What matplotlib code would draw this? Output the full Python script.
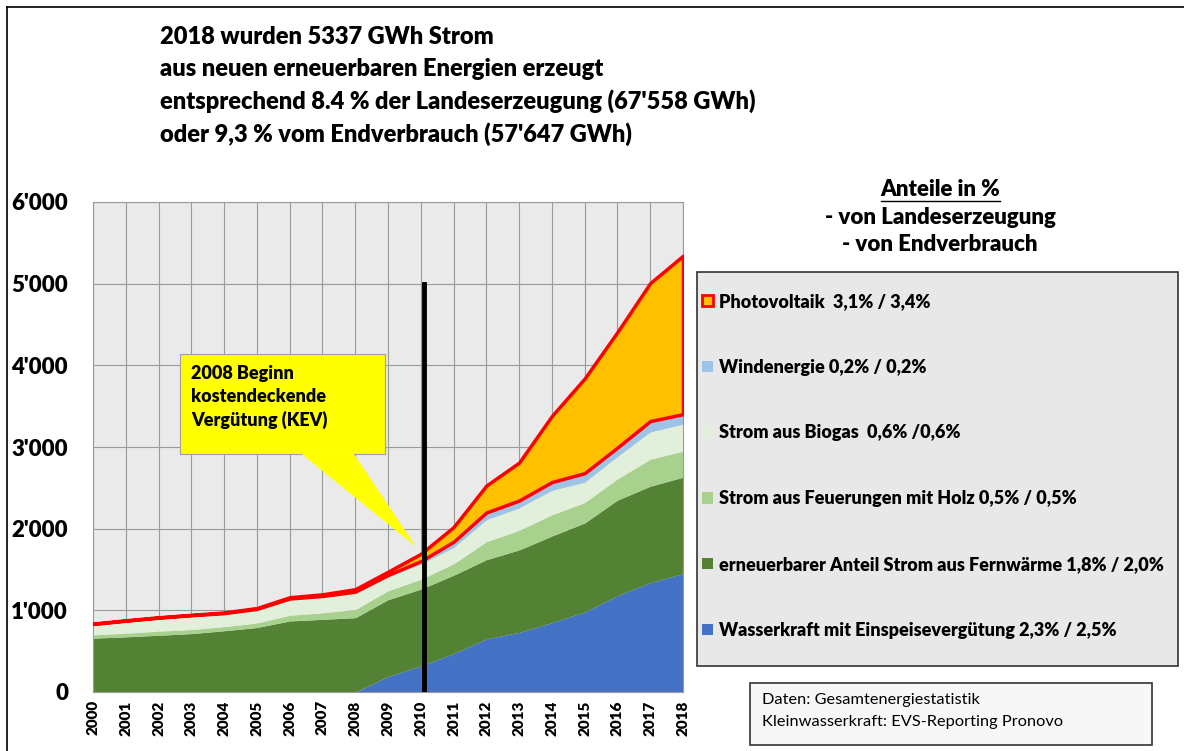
import numpy as np
import matplotlib
import matplotlib.pyplot as plt
from matplotlib.patches import Patch, Rectangle, Polygon
from matplotlib.ticker import FuncFormatter, MultipleLocator
from matplotlib.lines import Line2D

plt.rcParams['font.family'] = ['Lato', 'DejaVu Sans']

years = list(range(2000, 2019))
# GWh per year (stacked bottom -> top)
wasser = [0, 0, 0, 0, 0, 0, 0, 0, 0, 190, 320, 470, 650, 730, 850, 980, 1180, 1340, 1450]
fernwaerme = [660, 675, 695, 715, 750, 790, 870, 890, 910, 940, 940, 960, 970, 1010, 1060, 1090, 1170, 1180, 1180]
holz = [40, 45, 50, 50, 50, 55, 70, 80, 100, 110, 120, 140, 220, 240, 260, 250, 260, 330, 320]
biogas = [130, 150, 160, 170, 160, 165, 190, 190, 200, 170, 185, 200, 270, 275, 300, 250, 275, 335, 330]
wind = [3, 3, 5, 5, 6, 8, 15, 16, 19, 23, 37, 70, 88, 90, 101, 110, 109, 133, 122]
pv = [5, 5, 5, 5, 8, 10, 15, 20, 30, 40, 90, 180, 330, 465, 810, 1160, 1415, 1690, 1940]

labels = ["Wasserkraft mit Einspeisevergütung 2,3% / 2,5%",
          "erneuerbarer Anteil Strom aus Fernwärme 1,8% / 2,0%",
          "Strom aus Feuerungen mit Holz 0,5% / 0,5%",
          "Strom aus Biogas  0,6% /0,6%",
          "Windenergie 0,2% / 0,2%",
          "Photovoltaik  3,1% / 3,4%"]
colors = ['#4472C4', '#548235', '#A9D18E', '#E2EFDA', '#9DC3E6', '#FFC000']

kev_year = 2010.1
kev_top = 5000

title_lines = ["2018 wurden 5337 GWh Strom",
               "aus neuen erneuerbaren Energien erzeugt",
               "entsprechend 8.4 % der Landeserzeugung (67'558 GWh)",
               "oder 9,3 % vom Endverbrauch (57'647 GWh)"]

W, H = 1184, 751
fig = plt.figure(figsize=(W/100, H/100), dpi=100)
ax = fig.add_axes([93/W, 1-692/H, 590/W, 490/H])
ax.set_facecolor('#eaeaea')

bottom = np.zeros(len(years))
series = [wasser, fernwaerme, holz, biogas, wind]
for vals, c in zip(series, colors[:5]):
    vals = np.array(vals)
    ax.fill_between(years, bottom, bottom+vals, color=c, lw=0, zorder=2)
    bottom = bottom + vals
ax.fill_between(years, bottom, bottom+np.array(pv), facecolor=colors[5], edgecolor='#FF0000', lw=2.5, zorder=3)

ax.plot([kev_year, kev_year], [0, kev_top], color='black', lw=3.5, zorder=6)

ax.set_xlim(2000, 2018)
ax.set_ylim(0, 6000)
ax.xaxis.set_major_locator(MultipleLocator(1))
ax.yaxis.set_major_locator(MultipleLocator(1000))
ax.grid(True, color='#9a9a9a', lw=0.8, zorder=1)
ax.set_axisbelow(True)
ax.yaxis.set_major_formatter(FuncFormatter(lambda v, p: "0" if v == 0 else f"{int(v):,}".replace(",", "'")))
ax.tick_params(length=0)
ax.tick_params(axis='y', labelsize=16, pad=18)
ax.tick_params(axis='x', labelsize=11, labelrotation=90, pad=6)
for lab in ax.get_xticklabels() + ax.get_yticklabels():
    lab.set_fontweight('heavy')
for s in ax.spines.values():
    s.set_color('#9a9a9a')
    s.set_linewidth(0.8)

# callout box
bx0, bx1, by0, by1 = 2002.65, 2008.9, 2915, 4134
ax.add_patch(Rectangle((bx0, by0), bx1-bx0, by1-by0, facecolor='#FFFF00', edgecolor='#a0a0a0', lw=0.8, zorder=7))
ax.add_patch(Polygon([[2006.35, by0+5], [2007.95, by0+5], [2009.85, 1780]], closed=True,
                     facecolor='#FFFF00', edgecolor='none', zorder=7))
ax.text(bx0+0.35, by1-130, "2008 Beginn\nkostendeckende\nVergütung (KEV)", fontsize=13, fontweight='heavy',
        va='top', ha='left', linespacing=1.4, zorder=8)

# title
for i, t in enumerate(title_lines):
    fig.text(160/W, 1-(37+32.3*i)/H, t, fontsize=17, fontweight='heavy', va='center', ha='left')

fig.text(940/W, 1-189/H, "Anteile in %", fontsize=16, fontweight='heavy', ha='center', va='center')
fig.add_artist(Line2D([881/W, 1000/W], [1-201/H, 1-201/H], color='black', lw=1))
fig.text(940/W, 1-217/H, "- von Landeserzeugung", fontsize=16, fontweight='heavy', ha='center', va='center')
fig.text(940/W, 1-244/H, "- von Endverbrauch", fontsize=16, fontweight='heavy', ha='center', va='center')

# legend box
fig.add_artist(Rectangle((697/W, 1-666/H), 481/W, 394/H, transform=fig.transFigure,
                         facecolor='#e8e8e8', edgecolor='#333333', lw=1.2))
handles = []
for c in colors[:5]:
    handles.append(Patch(facecolor=c, edgecolor='none'))
handles.append(Patch(facecolor=colors[5], edgecolor='#FF0000', lw=2))
leg = fig.legend(handles[::-1], labels[::-1], loc='upper left',
                 bbox_to_anchor=(702/W, 1-293/H),
                 prop={'size': 13, 'weight': 'heavy'}, handlelength=0.6, handleheight=0.6,
                 handletextpad=0.35, labelspacing=2.7, borderpad=0, borderaxespad=0,
                 frameon=False)

# source box
fig.add_artist(Rectangle((750/W, 1-745/H), 402/W, 62/H, transform=fig.transFigure,
                         facecolor='#f7f7f7', edgecolor='#333333', lw=1.2))
fig.text(762/W, 1-700/H, "Daten: Gesamtenergiestatistik", fontsize=11.8, va='center', ha='left')
fig.text(762/W, 1-722/H, "Kleinwasserkraft: EVS-Reporting Pronovo", fontsize=11.8, va='center', ha='left')

# outer border
fig.add_artist(Line2D([7/W, 7/W], [0, 1-7/H], color='black', lw=1.2))
fig.add_artist(Line2D([7/W, 1], [1-7/H, 1-7/H], color='black', lw=1.2))

fig.savefig("out.png", dpi=100)
